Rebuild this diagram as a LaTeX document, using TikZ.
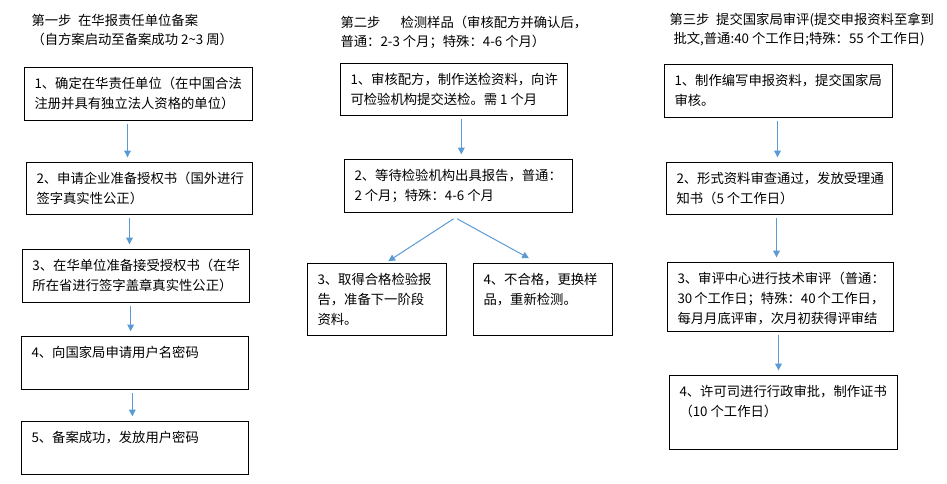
\documentclass[tikz,border=0pt]{standalone}
\usepackage{fontspec}
\setmainfont{Noto Sans CJK SC}
\usetikzlibrary{arrows.meta,calc}
\definecolor{arrowblue}{HTML}{5B9BD5}
\newcommand{\boxtext}[3]{\parbox[t][#2][t]{#1}{#3}}

\begin{document}
\begin{tikzpicture}[x=0.75pt,y=-0.75pt,line width=0.75pt]
\tikzset{
  stepbox/.style={draw,anchor=north west,inner xsep=7.5pt,inner ysep=7pt,
    font=\fontsize{10pt}{15pt}\selectfont},
  steptitle/.style={anchor=north west,inner sep=0pt,align=left,
    font=\fontsize{10pt}{14.25pt}\selectfont},
  flow/.style={arrowblue,line width=0.75pt,-{Triangle[length=5pt,width=5pt]},
    shorten <=2.25pt,shorten >=3.5pt}
}
\useasboundingbox (0,0) rectangle (947,484);
\clip (0,0) rectangle (947,484);
% ---------- 第一步: five boxes in a column ----------
\node[steptitle] (t1) at (31,14) {第一步\enspace 在华报责任单位备案\\（自方案启动至备案成功 2\textasciitilde 3 周）};
\node[stepbox] (c1b1) at (24,67)  {\boxtext{156pt}{25.75pt}{1、确定在华责任单位（在中国合法\\注册并具有独立法人资格的单位）}};
\node[stepbox] (c1b2) at (26,162) {\boxtext{154.5pt}{25pt}{2、申请企业准备授权书（国外进行\\签字真实性公正）}};
\node[stepbox] (c1b3) at (22,249) {\boxtext{155.25pt}{25.75pt}{3、在华单位准备接受授权书（在华\\所在省进行签字盖章真实性公正）}};
\node[stepbox] (c1b4) at (21,336) {\boxtext{155.25pt}{25.75pt}{4、向国家局申请用户名密码}};
\node[stepbox] (c1b5) at (21,421) {\boxtext{155.25pt}{25.75pt}{5、备案成功，发放用户密码}};
\draw[flow] ([xshift=-8.25pt]c1b1.south) -- ([xshift=-8.25pt]c1b1.south |- c1b2.north);
\draw[flow] ([xshift=-7.5pt]c1b2.south) -- ([xshift=-7.5pt]c1b2.south |- c1b3.north);
\draw[flow] ([xshift=-4pt]c1b3.south) -- ([xshift=-4pt]c1b3.south |- c1b4.north);
\draw[flow] ([xshift=-2pt]c1b4.south) -- ([xshift=-2pt]c1b4.south |- c1b5.north);
% ---------- 第二步: two boxes, then a fork ----------
\node[steptitle] (t2) at (340,16) {第二步\hspace{1.5em}检测样品（审核配方并确认后，\\普通：2-3 个月；特殊：4-6 个月）};
\node[stepbox] (c2b1) at (340,63)  {\boxtext{155.25pt}{25pt}{1、审核配方，制作送检资料，向许\\可检验机构提交送检。需 1 个月}};
\node[stepbox] (c2b2) at (344,159) {\boxtext{156pt}{25.75pt}{2、等待检验机构出具报告，普通：\\2 个月；特殊：4-6 个月}};
\node[stepbox] (c2b3) at (307,263) {\boxtext{89.25pt}{40pt}{3、取得合格检验报\\告，准备下一阶段\\资料。}};
\node[stepbox] (c2b4) at (473,263) {\boxtext{89.25pt}{40pt}{4、不合格，更换样\\品，重新检测。}};
\draw[flow] ([xshift=5.5pt]c2b1.south) -- ([xshift=5.5pt]c2b1.south |- c2b2.north);
\draw[flow,shorten <=8pt,shorten >=2.5pt] ([xshift=3pt]c2b2.south) -- ([xshift=6.4pt]c2b3.north);    % pass
\draw[flow,shorten <=9pt,shorten >=7.5pt] ([xshift=-9pt]c2b2.south) -- ([xshift=-4pt]c2b4.north);   % fail
% ---------- 第三步: four boxes in a column ----------
\node[steptitle] (t3) at (669,13) {第三步\enspace 提交国家局审评(提交申报资料至拿到\\\hspace{3pt}批文,普通:40 个工作日;特殊：55 个工作日)};
\node[stepbox] (c3b1) at (664,64)  {\boxtext{156pt}{25.75pt}{1、制作编写申报资料，提交国家局\\审核。}};
\node[stepbox] (c3b2) at (666,162) {\boxtext{154.5pt}{25pt}{2、形式资料审查通过，发放受理通\\知书（5 个工作日）}};
\node[stepbox] (c3b3) at (667,262) {\boxtext{154.5pt}{37.75pt}{3、审评中心进行技术审评（普通：\\30~个工作日；特殊：40~个工作日，\\每月月底评审，次月初获得评审结}};
\node[stepbox] (c3b4) at (669,375) {\boxtext{156pt}{41.5pt}{4、许可司进行行政审批，制作证书\\（10 个工作日）}};
\draw[flow] ([xshift=-0.75pt]c3b1.south) -- ([xshift=-0.75pt]c3b1.south |- c3b2.north);
\draw[flow] ([xshift=-2.25pt]c3b2.south) -- ([xshift=-2.25pt]c3b2.south |- c3b3.north);
\draw[flow] ([xshift=-1.5pt]c3b3.south) -- ([xshift=-1.5pt]c3b3.south |- c3b4.north);
\end{tikzpicture}
\end{document}
